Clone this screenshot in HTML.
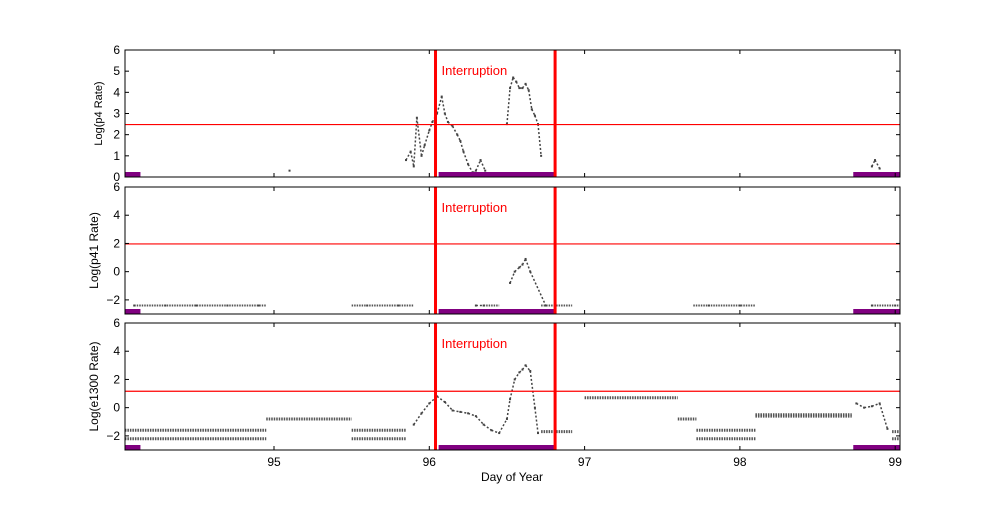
<!DOCTYPE html>
<html><head><meta charset="utf-8"><style>
body{margin:0;background:#fff;font-family:"Liberation Sans",sans-serif}
svg text{font-family:"Liberation Sans",sans-serif}
</style></head><body>
<svg id="c" width="1000" height="500"></svg>
<script>
const dayTicks=[95,96,97,98,99];
const interruptStart=96.04, interruptEnd=96.81;
const panelTitles=["Log(p4 Rate)","Log(p41 Rate)","Log(e1300 Rate)"];
const panelYTicks=[[0,1,2,3,4,5,6],[-2,0,2,4,6],[-2,0,2,4,6]];
const panelYMin=[0,-3,-3], panelYMax=[6,6,6];
const thresholds=[2.5,2,1.2];
const purpleStart=[94.04,96.06,98.73], purpleEnd=[94.14,96.81,99.03];
const p4Days=[95.1,95.85,95.88,95.9,95.92,95.95,95.97,96.0,96.02,96.05,96.08,96.1,96.12,96.15,96.18,96.2,96.22,96.25,96.28,96.3,96.33,96.36,96.5,96.52,96.54,96.56,96.58,96.6,96.62,96.64,96.66,96.68,96.7,96.72,98.85,98.87,98.9];
const p4Vals=[0.3,0.8,1.2,0.5,2.8,1.0,1.5,2.2,2.6,3.0,3.8,3.0,2.6,2.4,2.0,1.7,1.2,0.6,0.2,0.3,0.8,0.3,2.5,4.2,4.7,4.5,4.2,4.2,4.4,4.1,3.2,2.9,2.5,1.0,0.5,0.8,0.4];
const p41Days=[94.1,94.3,94.5,94.7,94.9,95.6,95.8,96.3,96.35,96.52,96.55,96.58,96.6,96.62,96.65,96.75,97.8,98.0,98.85,99.0];
const p41Vals=[-2.4,-2.4,-2.4,-2.4,-2.4,-2.4,-2.4,-2.4,-2.4,-0.8,0,0.3,0.5,0.9,0,-2.4,-2.4,-2.4,-2.4,-2.4];
const e13Days=[95.9,95.95,96.0,96.05,96.1,96.15,96.2,96.25,96.3,96.35,96.4,96.45,96.5,96.52,96.55,96.58,96.6,96.62,96.65,96.68,96.7,98.75,98.8,98.85,98.9,98.95];
const e13Vals=[-1.2,-0.4,0.3,0.8,0.4,-0.2,-0.3,-0.4,-0.6,-1.2,-1.6,-1.8,-0.8,0.6,2.0,2.5,2.7,3.0,2.6,0,-1.8,0.3,0.0,0.1,0.3,-1.5];
const e13BandStart=[94.04,94.04,94.95,95.5,95.5,96.72,97.0,97.6,97.72,97.72,98.1,98.1,98.98,98.98];
const e13BandEnd=[94.95,94.95,95.5,95.85,95.85,96.92,97.6,97.72,98.1,98.1,98.72,98.72,99.03,99.03];
const e13BandVal=[-1.6,-2.2,-0.8,-1.6,-2.2,-1.7,0.7,-0.8,-1.6,-2.2,-0.5,-0.6,-1.7,-2.2];
const p41BandStart=[94.1,95.5,96.35,96.72,97.7,98.85];
const p41BandEnd=[94.95,95.9,96.45,96.92,98.1,99.03];
const p41BandVal=[-2.4,-2.4,-2.4,-2.4,-2.4,-2.4];
const panelDays=[p4Days,p41Days,e13Days], panelVals=[p4Vals,p41Vals,e13Vals];
const bandS=[[],p41BandStart,e13BandStart], bandE=[[],p41BandEnd,e13BandEnd], bandV=[[],p41BandVal,e13BandVal];

const NS="http://www.w3.org/2000/svg", svg=document.getElementById('c');
const L=125,R=900, tops=[50,187,323], H=127;
const x=d=>274+(d-95)*155.3;
function mk(t,a,p){const e=document.createElementNS(NS,t);for(const k in a)e.setAttribute(k,a[k]);(p||svg).appendChild(e);return e;}
for(let p=0;p<3;p++){
  const top=tops[p], y=v=>top+H-(v-panelYMin[p])/(panelYMax[p]-panelYMin[p])*H;
  const g=mk('g',{});
  
  
  for(let i=0;i<bandS[p].length;i++){
    const l=mk('line',{x1:x(bandS[p][i]),x2:x(bandE[p][i]),y1:y(bandV[p][i]),y2:y(bandV[p][i]),stroke:'#555','stroke-width':p==2?3:2,'stroke-dasharray':'1.5 1'},g);
    
    
  }
  const ds=panelDays[p],vs=panelVals[p];
  for(let i=0;i<ds.length;i++){
    if(i>0 && ds[i]-ds[i-1]<0.1){
      const l=mk('line',{x1:x(ds[i-1]),x2:x(ds[i]),y1:y(vs[i-1]),y2:y(vs[i]),stroke:'#444','stroke-width':1.5,'stroke-dasharray':'2 2'},g);
      
      
    }
    const c=mk('rect',{x:x(ds[i])-1,y:y(vs[i])-1,width:2,height:2,fill:'#444'},g);
    
    
  }
  const th=mk('line',{x1:L,x2:R,y1:y(thresholds[p])+0.5,y2:y(thresholds[p])+0.5,stroke:'#ff0000','stroke-width':1.2},g);
  
  
  for(let i=0;i<3;i++){
    const b=mk('rect',{x:x(purpleStart[i]),y:top+H-5,width:x(purpleEnd[i])-x(purpleStart[i]),height:5,fill:'purple'},g);
    
    
  }
  [interruptStart,interruptEnd].forEach(d=>{
    const l=mk('line',{x1:x(d),x2:x(d),y1:top,y2:top+H,stroke:'red','stroke-width':3},g);
    
    
  });
  const it=mk('text',{x:x(interruptStart)+6,y:top+25,fill:'red','font-size':13},g);
  it.textContent='Interruption';
  
  
  const f=mk('rect',{x:L,y:top,width:R-L,height:H,fill:'none',stroke:'#000','stroke-width':1},g);
  
  
  dayTicks.forEach(d=>{
    mk('line',{x1:x(d),x2:x(d),y1:top+H,y2:top+H-4,stroke:'#000'},g);
    mk('line',{x1:x(d),x2:x(d),y1:top,y2:top+4,stroke:'#000'},g);
  });
  panelYTicks[p].forEach(v=>{
    mk('line',{x1:L,x2:L+4,y1:y(v),y2:y(v),stroke:'#000'},g);
    mk('line',{x1:R,x2:R-4,y1:y(v),y2:y(v),stroke:'#000'},g);
    const t=mk('text',{x:L-5,y:y(v)+4,'text-anchor':'end','font-size':12},g);
    t.textContent=v<0?'\u2212'+(-v):v;
    
    
  });
  const yt=mk('text',{x:0,y:0,'text-anchor':'middle','font-size':p==0?11:12,transform:`translate(${p==0?102:98},${top+H/2}) rotate(-90)`},g);
  yt.textContent=panelTitles[p];
  
  
}
dayTicks.forEach(d=>{
  const t=mk('text',{x:x(d),y:466,'text-anchor':'middle','font-size':12});
  t.textContent=d;
  
  
});
const xt=mk('text',{x:512,y:481,'text-anchor':'middle','font-size':12});
xt.textContent='Day of Year';


</script>
</body></html>
